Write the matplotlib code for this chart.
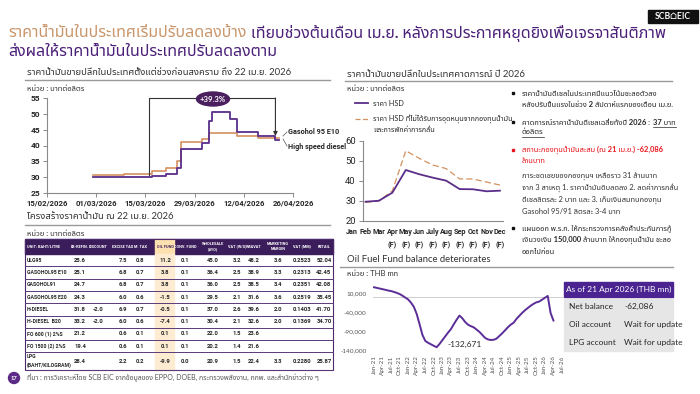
import datetime as dt
import matplotlib
matplotlib.use("Agg")
import matplotlib.pyplot as plt
import matplotlib.dates as mdates
from matplotlib import font_manager as fm
from matplotlib.ft2font import FT2Font
from matplotlib.patches import Rectangle, Ellipse, Circle
from matplotlib.ticker import FuncFormatter

# ---------------- data ----------------
title_a = "ราคาน้ำมันในประเทศเริ่มปรับลดลงบ้าง"
title_b = "เทียบช่วงต้นเดือน เม.ย. หลังการประกาศหยุดยิงเพื่อเจรจาสันติภาพ"
title_c = "ส่งผลให้ราคาน้ำมันในประเทศปรับลดลงตาม"

# Retail prices (step changes), THB/litre
diesel_dates = ["2026-02-28", "2026-03-17", "2026-03-21", "2026-03-24", "2026-03-25",
                "2026-03-31", "2026-04-02", "2026-04-03", "2026-04-08", "2026-04-10",
                "2026-04-16", "2026-04-21", "2026-04-22"]
diesel_vals = [29.94, 30.44, 31.04, 33.04, 38.94, 40.94, 47.74, 50.54, 48.24, 44.24,
               42.94, 41.74, 41.74]
gasohol_dates = ["2026-02-28", "2026-03-09", "2026-03-17", "2026-03-21", "2026-03-24",
                 "2026-03-25", "2026-03-31", "2026-04-02", "2026-04-10", "2026-04-16",
                 "2026-04-22"]
gasohol_vals = [30.55, 31.05, 32.05, 33.05, 35.05, 41.05, 42.05, 44.05, 43.05, 42.45, 42.45]
left_xticks = ["2026-02-15", "2026-03-01", "2026-03-15", "2026-03-29", "2026-04-12", "2026-04-26"]
change_label = "+39.3%"

# Price structure table
table_cols = ["UNIT: BAHT/LITRE", "EX-REFIN.", "DISCOUNT", "EXCISE TAX", "M. TAX", "OIL FUND",
              "CONV. FUND", "WHOLESALE\n(W/O)", "VAT (W/S)", "WS&VAT", "MARKETING\nMARGIN",
              "VAT (MM)", "RETAIL"]
table_rows = ["ULG95", "GASOHOL95 E10", "GASOHOL91", "GASOHOL95 E20", "H-DIESEL", "H-DIESEL  B20",
              "FO 600 (1) 2%S", "FO 1500 (2) 2%S", "LPG\n(BAHT/KILOGRAM)"]
ex_refin = ["25.6", "25.1", "24.7", "24.3", "31.8", "33.2", "21.2", "19.4", "28.4"]
discount = ["", "", "", "", "-2.0", "-2.0", "", "", ""]
excise_tax = ["7.5", "6.8", "6.8", "6.0", "6.9", "6.0", "0.6", "0.6", "2.2"]
m_tax = ["0.8", "0.7", "0.7", "0.6", "0.7", "0.6", "0.1", "0.1", "0.2"]
oil_fund = ["11.2", "3.8", "3.8", "-1.5", "-0.5", "-7.4", "0.1", "0.1", "-9.9"]
conv_fund = ["0.1", "0.1", "0.1", "0.1", "0.1", "0.1", "0.1", "0.1", "0.0"]
wholesale = ["45.0", "36.4", "36.0", "29.5", "37.0", "30.4", "22.0", "20.2", "20.9"]
vat_ws = ["3.2", "2.5", "2.5", "2.1", "2.6", "2.1", "1.5", "1.4", "1.5"]
ws_vat = ["48.2", "38.9", "38.5", "31.6", "39.6", "32.6", "23.6", "21.6", "22.4"]
marketing = ["3.6", "3.3", "3.4", "3.6", "2.0", "2.0", "", "", "3.3"]
vat_mm = ["0.2523", "0.2313", "0.2351", "0.2519", "0.1403", "0.1369", "", "", "0.2280"]
retail = ["52.04", "42.45", "42.08", "35.45", "41.70", "34.70", "", "", "25.87"]

# Forecast chart (THB/litre)
fc_months = ["Jan", "Feb", "Mar", "Apr", "May", "Jun", "July", "Aug", "Sep", "Oct", "Nov", "Dec"]
fc_flags = ["", "", "", "(F)", "(F)", "(F)", "(F)", "(F)", "(F)", "(F)", "(F)", "(F)"]
hsd_price = [29.6, 30.1, 34.1, 45.4, 43.3, 41.6, 40.1, 35.9, 35.8, 34.8, 35.1]        # Feb..Dec
hsd_unsubsidised = [29.3, 30.0, 35.0, 55.0, 51.2, 47.9, 46.1, 41.0, 40.9, 39.4, 37.9]  # Feb..Dec

# Oil fund balance (THB mn), monthly Jan-21 .. Apr-26
fund_balance = [25900, 24200, 22500, 20800, 19000, 17200, 15800, 13500, 11000, 8000, 3500, -1500,
                -6500, -15000, -26000, -45000, -72000, -100000, -116000, -121000, -125000, -129000,
                -132671, -124000,
                -114000, -104000, -94000, -85000, -72000, -60000, -49000, -56000, -66000, -73000,
                -77000, -80000,
                -86000, -92000, -100000, -108000, -112000, -113500, -113000, -110000, -103000,
                -96000, -88000, -80000,
                -73000, -68000, -58000, -50000, -42000, -35000, -29000, -23000, -18000, -14000,
                -12000, -7000,
                -2000, 2900, -42000, -62086]
fund_ticks = ["Jan-21", "Apr-21", "Jul-21", "Oct-21", "Jan-22", "Apr-22", "Jul-22", "Oct-22",
              "Jan-23", "Apr-23", "Jul-23", "Oct-23", "Jan-24", "Apr-24", "Jul-24", "Oct-24",
              "Jan-25", "Apr-25", "Jul-25", "Oct-25", "Jan-26", "Apr-26", "Jul-26"]
fund_yticks = [10000, -40000, -90000, -140000]
fund_min_label = "-132,671"
asof_header = "As of 21 Apr 2026 (THB mn)"
asof_items = ["Net balance", "Oil account", "LPG account"]
asof_values = ["-62,086", "Wait for update", "Wait for update"]

# ---------------- fonts ----------------
def find_thai_fonts():
    names, seen = [], set()
    for f in fm.fontManager.ttflist:
        if f.fname in seen or f.name in names:
            continue
        seen.add(f.fname)
        try:
            cm = FT2Font(f.fname).get_charmap()
        except Exception:
            continue
        if 0x0E01 in cm and 0x0E32 in cm and 0x0E49 in cm:
            names.append(f.name)
    pref = ["Noto Sans Thai", "Noto Sans Thai Looped", "Sarabun", "Loma", "Garuda", "Waree",
            "Umpush", "Kinnari", "Norasi", "FreeSans"]
    names.sort(key=lambda n: pref.index(n) if n in pref else 99)
    return names

THAI = find_thai_fonts()
FAM = ["Lato"] + THAI[:1] + ["DejaVu Sans"]
plt.rcParams["font.family"] = FAM
installed = {f.name for f in fm.fontManager.ttflist}
NARROW = ["Liberation Sans Narrow"] if "Liberation Sans Narrow" in installed else ["Roboto"]
NARROW = NARROW + THAI[:1] + ["DejaVu Sans"]

PURPLE_T = "#4b2079"
ORANGE_T = "#c9966b"
DIESEL = "#5a2e8a"
GASOHOL = "#d4915f"
HEADER = "#3c1d5c"
DARK = "#262626"

# ---------------- figure ----------------
W, H = 700, 394
fig = plt.figure(figsize=(7, 3.94), dpi=100)
fig.patch.set_facecolor("white")

def rect_px(l, t, r, b):
    return [l / W, 1 - b / H, (r - l) / W, (b - t) / H]

ov = fig.add_axes([0, 0, 1, 1], zorder=5)
ov.set_xlim(0, W)
ov.set_ylim(H, 0)
ov.axis("off")
ov.patch.set_alpha(0)

def T(x, y, s, size=6, color=DARK, weight="normal", ha="left", va="center", **kw):
    return ov.text(x, y, s, fontsize=size, color=color, fontweight=weight, ha=ha, va=va, **kw)

R = fig.canvas.get_renderer()

# Title with fit to width
def draw_title(ts):
    a = T(8, 33, title_a, size=ts, color=ORANGE_T, weight="bold")
    bb = a.get_window_extent(R)
    b = T(bb.x1 + 5, 33, title_b, size=ts, color=PURPLE_T, weight="bold")
    c = T(8, 52, title_c, size=ts, color=PURPLE_T, weight="bold")
    return a, b, c

ts = 11
a, b, c = draw_title(ts)
wid = b.get_window_extent(R).x1 - 8
for t in (a, b, c):
    t.remove()
ts = ts * 662 / wid
draw_title(ts)

# Logo
ov.add_patch(Rectangle((648, 10), 50, 13, color="#111111"))
T(673, 16.5, "SCB⌂EIC", size=6.2, color="white", weight="bold", ha="center",
  family=["Lato", "DejaVu Sans"])

# ---------------- left chart ----------------
T(27, 72, "ราคาน้ำมันขายปลีกในประเทศตั้งแต่ช่วงก่อนสงคราม ถึง 22 เม.ย. 2026", size=6.8, color="#333333")
ov.plot([25, 330], [80, 80], color="#9a9a9a", lw=1.0)
T(27, 88, "หน่วย : บาทต่อลิตร", size=5.5, color="#333333")

def todt(s):
    return dt.datetime.strptime(s, "%Y-%m-%d")

ax1 = fig.add_axes(rect_px(47, 98, 293, 193))
ax1.step([todt(s) for s in gasohol_dates], gasohol_vals, where="post", color=GASOHOL, lw=1.2)
ax1.step([todt(s) for s in diesel_dates], diesel_vals, where="post", color=DIESEL, lw=1.3)
ax1.set_xlim(todt(left_xticks[0]), todt(left_xticks[-1]))
ax1.set_ylim(25, 55)
ax1.set_yticks(range(25, 56, 5))
ax1.set_xticks([todt(s) for s in left_xticks])
ax1.xaxis.set_major_formatter(mdates.DateFormatter("%d/%m/%Y"))
for s in ("top", "right"):
    ax1.spines[s].set_visible(False)
for s in ("left", "bottom"):
    ax1.spines[s].set_color("#8a8a8a")
    ax1.spines[s].set_linewidth(0.8)
ax1.tick_params(colors="#8a8a8a", labelcolor=DARK, length=3, width=0.7, pad=2)
for lab in ax1.get_xticklabels():
    lab.set_fontfamily(NARROW)
    lab.set_fontsize(5.6)
    lab.set_fontweight("bold")
for lab in ax1.get_yticklabels():
    lab.set_fontfamily(NARROW)
    lab.set_fontsize(6.0)
    lab.set_fontweight("bold")
ax1.patch.set_alpha(0)

# bracket showing change
d0 = todt("2026-03-16")
d1 = todt("2026-04-21")
ax1.plot([d0, d0, d1], [30.6, 55, 55], color="#333333", lw=0.8, clip_on=False)
ax1.annotate("", xy=(d1, 43.0), xytext=(d1, 55), annotation_clip=False,
             arrowprops=dict(arrowstyle="-|>", color="#333333", lw=0.8, mutation_scale=6,
                             shrinkA=0, shrinkB=0))
ov.add_patch(Ellipse((213, 99), 33, 14, color="#4a1f5e"))
T(213, 99, change_label, size=5.6, color="white", weight="bold", ha="center")
ov.plot([283, 287], [136, 132], color="#555555", lw=0.5)
ov.plot([283, 287], [139, 146], color="#555555", lw=0.5)
T(288, 132, "Gasohol 95 E10", size=5.2, weight="bold", family=NARROW)
T(288, 147, "High speed diesel", size=5.2, weight="bold", family=NARROW)

# ---------------- price structure table ----------------
T(27, 216, "โครงสร้างราคาน้ำมัน ณ 22 เม.ย. 2026", size=6.8, color="#333333")
ov.plot([25, 330], [225, 225], color="#9a9a9a", lw=1.0)
T(27, 233, "หน่วย : บาทต่อลิตร", size=5.5, color="#333333")

tl, tr = 25, 333
hy0, hy1 = 239, 254
row_h = [12.3] * 8 + [17.5]
col_x = [27, 80, 98, 123, 140, 165, 185, 213, 237, 254, 278, 302, 324]
of_l, of_r = 155, 174
ov.add_patch(Rectangle((tl, hy0), tr - tl, hy1 - hy0, color=HEADER))
ov.add_patch(Rectangle((of_l, hy0), of_r - of_l, hy1 - hy0, color="#fde0b0"))
body_bottom = hy1 + sum(row_h)
ov.add_patch(Rectangle((of_l, hy1), of_r - of_l, body_bottom - hy1, color="#fdecd2"))
for j, name in enumerate(table_cols):
    col = HEADER if j == 5 else "white"
    T(col_x[j], (hy0 + hy1) / 2, name, size=2.8, color=col, weight="bold",
      ha="left" if j == 0 else "center", linespacing=1.5, family=NARROW)
cols_data = [ex_refin, discount, excise_tax, m_tax, oil_fund, conv_fund, wholesale, vat_ws,
             ws_vat, marketing, vat_mm, retail]
y = hy1
for i, rname in enumerate(table_rows):
    yc = y + row_h[i] / 2
    T(col_x[0], yc, rname, size=3.7, weight="bold", linespacing=1.8, family=NARROW)
    for j, colvals in enumerate(cols_data):
        T(col_x[j + 1], yc, colvals[i], size=4.2, weight="bold", ha="center", family=NARROW)
    y += row_h[i]
    ov.plot([tl, tr], [y, y], color="#5a3a7a", lw=0.7)
ov.add_patch(Rectangle((tl, hy0), tr - tl, body_bottom - hy0, fill=False, ec="#4a2a6a", lw=0.8))

# footer
ov.add_patch(Circle((14, 378), 5.5, color="#5b2a86"))
T(14, 378.3, "17", size=4.2, color="white", weight="bold", ha="center")
T(27, 378, "ที่มา : การวิเคราะห์โดย SCB EIC จากข้อมูลของ EPPO, DOEB, กระทรวงพลังงาน, กกพ. และสำนักข่าวต่าง ๆ",
  size=5.0, color="#555555")

# ---------------- forecast chart ----------------
T(347, 74, "ราคาน้ำมันขายปลีกในประเทศคาดการณ์ ปี 2026", size=6.8, color="#333333")
ov.plot([345, 672], [81, 81], color="#9a9a9a", lw=1.0)
T(347, 88, "หน่วย : บาทต่อลิตร", size=5.5, color="#333333")
ov.plot([355, 368], [103, 103], color=DIESEL, lw=1.3)
T(373, 103, "ราคา HSD", size=5.2)
ov.plot([355, 368], [119, 119], color=GASOHOL, lw=0.9, ls=(0, (4, 2)))
T(373, 119, "ราคา HSD ที่ไม่ได้รับการอุดหนุนจากกองทุนน้ำมัน", size=5.2)
T(373, 130, "และการพักค่าการกลั่น", size=5.2)

sp = 13.45
x0px = 352
xl_lo = -0.4
ax2 = fig.add_axes(rect_px(x0px + xl_lo * sp, 140.7, 502.5, 221))
xs = list(range(1, len(hsd_price) + 1))
ax2.plot(xs, hsd_unsubsidised, color=GASOHOL, lw=0.9, ls=(0, (5, 2.5)))
ax2.plot(xs, hsd_price, color=DIESEL, lw=1.3)
spine_x = (362.7 - x0px) / sp
ax2.set_xlim(xl_lo, (502.5 - x0px) / sp)
ax2.set_ylim(20, 60)
ax2.set_yticks(range(20, 61, 10))
ax2.set_xticks(range(len(fc_months)))
ax2.set_xticklabels([m if not f else m + "\n" + f for m, f in zip(fc_months, fc_flags)],
                    fontweight="bold", linespacing=1.9, va="top")
ax2.spines["left"].set_position(("data", spine_x))
ax2.spines["bottom"].set_bounds(spine_x, (502.5 - x0px) / sp)
for s in ("top", "right"):
    ax2.spines[s].set_visible(False)
for s in ("left", "bottom"):
    ax2.spines[s].set_color("#8a8a8a")
    ax2.spines[s].set_linewidth(0.8)
ax2.tick_params(axis="x", length=0, labelcolor=DARK, pad=5)
ax2.tick_params(axis="y", length=3, width=0.7, colors="#8a8a8a", labelcolor=DARK, pad=2)
for lab in ax2.get_xticklabels():
    lab.set_fontfamily(NARROW)
    lab.set_fontsize(5.2)
for lab in ax2.get_yticklabels():
    lab.set_fontfamily(NARROW)
    lab.set_fontsize(6.8)
ax2.patch.set_alpha(0)

# ---------------- bullets ----------------
BX, TX = 513, 522
def bullet(y, col="#111111"):
    ov.add_patch(Rectangle((BX - 1.3, y - 1.3), 2.6, 2.6, color=col))

bs = 5.4
bullet(93)
T(TX, 93, "ราคาน้ำมันดีเซลในประเทศมีแนวโน้มชะลอตัวลง", size=bs, weight="bold")
T(TX, 104, "หลังปรับขึ้นแรงในช่วง 2 สัปดาห์แรกของเดือน เม.ย.", size=bs, weight="bold")
bullet(122)
p1 = T(TX, 122, "คาดการณ์ราคาน้ำมันดีเซลเฉลี่ยทั้งปี 2026 : ", size=bs, weight="bold")
e1 = p1.get_window_extent(R)
p2 = T(e1.x1 + 1, 122, "37 บาท", size=bs, weight="bold")
e2 = p2.get_window_extent(R)
ov.plot([e2.x0, e2.x1], [127, 127], color=DARK, lw=0.5)
p3 = T(TX, 132, "ต่อลิตร", size=bs, weight="bold")
e3 = p3.get_window_extent(R)
ov.plot([e3.x0, e3.x1], [137, 137], color=DARK, lw=0.5)
bullet(150, "#e8141b")
T(TX, 150, "สถานะกองทุนน้ำมันสะสม (ณ 21 เม.ย.) -62,086", size=bs, weight="bold", color="#e8141b")
T(TX, 160, "ล้านบาท", size=bs, weight="bold", color="#e8141b")
for k, line in enumerate(["ภาระชดเชยของกองทุนฯ เหลือราว 31 ล้านบาท",
                          "จาก 3 สาเหตุ 1. ราคาน้ำมันดิบลดลง 2. ลดค่าการกลั่น",
                          "ดีเซลลิตรละ 2 บาท และ 3. เก็บเงินสมทบกองทุน",
                          "Gasohol 95/91 ลิตรละ 3-4 บาท"]):
    T(TX, 176 + k * 11.7, line, size=bs, color="#333333")
bullet(228)
T(TX, 228, "แผนออก พ.ร.ก. ให้กระทรวงการคลังค้ำประกันการกู้", size=bs, weight="bold")
T(TX, 240, "เงินวงเงิน 150,000 ล้านบาท ให้กองทุนน้ำมัน ชะลอ", size=bs, weight="bold")
T(TX, 251, "ออกไปก่อน", size=bs, weight="bold")

# ---------------- oil fund chart ----------------
T(347, 259, "Oil Fuel Fund balance deteriorates", size=6.8, color="#333333")
ov.plot([340, 673], [267, 267], color="#9a9a9a", lw=1.0)
T(347, 274, "หน่วย : THB mn", size=5.5, color="#333333")

ax3 = fig.add_axes(rect_px(372.6, 286, 563.4, 350))
ax3.plot(range(len(fund_balance)), fund_balance, color="#5b2d98", lw=1.4)
ax3.axhline(0, color="#cfcfcf", lw=0.7, zorder=0)
ax3.set_xlim(-0.5, 66.5)
ax3.set_ylim(-140000, 29200)
ax3.set_yticks(fund_yticks)
ax3.yaxis.set_major_formatter(FuncFormatter(lambda v, p: f"{int(v):,}"))
ax3.set_xticks(range(0, 3 * len(fund_ticks), 3))
ax3.set_xticklabels(fund_ticks, rotation=90)
for s in ax3.spines.values():
    s.set_visible(False)
ax3.tick_params(axis="y", length=0, labelsize=4.6, labelcolor="#555555", pad=4.5)
ax3.tick_params(axis="x", length=0, labelsize=4.5, labelcolor="#555555", pad=4)
ax3.patch.set_alpha(0)
imin = fund_balance.index(min(fund_balance))
ax3.annotate(fund_min_label, xy=(imin, min(fund_balance)), xytext=(8, 2),
             textcoords="offset points", fontsize=6, color=DARK, va="center")

# As-of table
ov.add_patch(Rectangle((564, 282), 109, 15, color="#4b2491"))
T(618.5, 289.5, asof_header, size=6.0, color="white", ha="center")
for i, (k, v) in enumerate(zip(asof_items, asof_values)):
    y0 = 298.5 + i * 17.8
    ov.add_patch(Rectangle((564, y0), 53.5, 16.5, color="#e6e6e6"))
    ov.add_patch(Rectangle((618.5, y0), 54.5, 16.5, color="#e6e6e6"))
    T(569, y0 + 8.2, k, size=6.0)
    T(624, y0 + 8.2, v, size=6.0)

fig.savefig("out.png", dpi=100, facecolor="white")
